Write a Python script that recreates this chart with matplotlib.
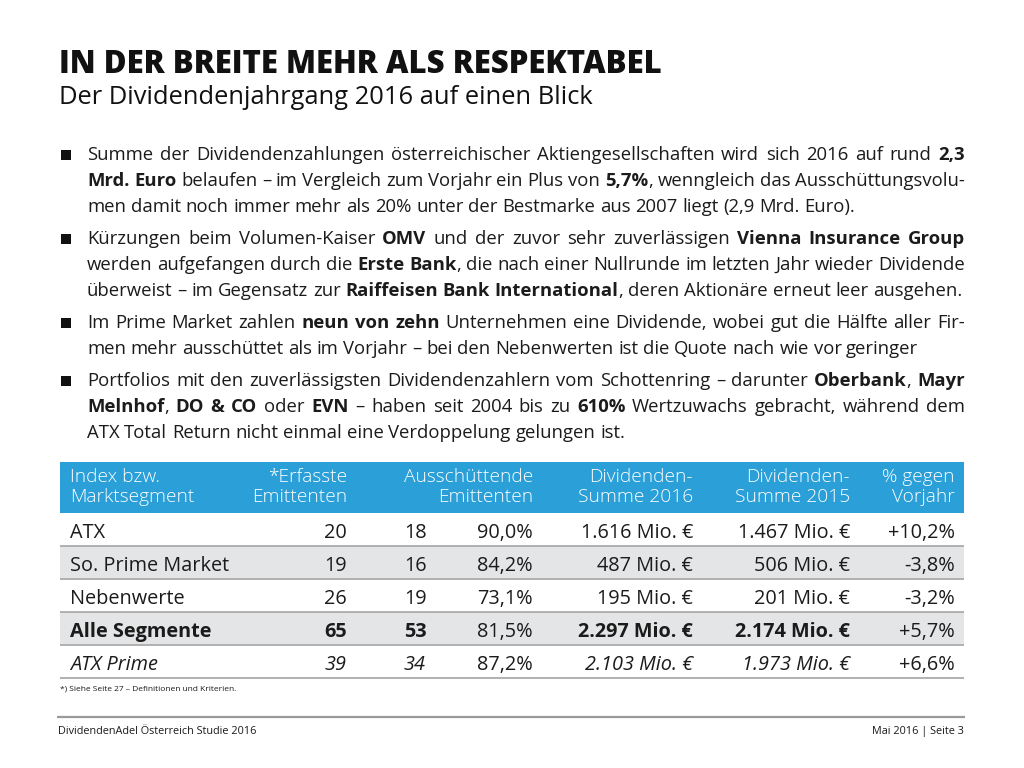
import matplotlib
matplotlib.use("Agg")
import matplotlib.pyplot as plt
from matplotlib.patches import Rectangle

# ---------------- data ----------------
title = "IN DER BREITE MEHR ALS RESPEKTABEL"
subtitle = "Der Dividendenjahrgang 2016 auf einen Blick"

bullets = [
    ["Summe der Dividendenzahlungen österreichischer Aktiengesellschaften wird sich 2016 auf rund **2,3**",
     "**Mrd. Euro** belaufen – im Vergleich zum Vorjahr ein Plus von **5,7%**, wenngleich das Ausschüttungsvolu-",
     "men damit noch immer mehr als 20% unter der Bestmarke aus 2007 liegt (2,9 Mrd. Euro)."],
    ["Kürzungen beim Volumen-Kaiser **OMV** und der zuvor sehr zuverlässigen **Vienna Insurance Group**",
     "werden aufgefangen durch die **Erste Bank**, die nach einer Nullrunde im letzten Jahr wieder Dividende",
     "überweist – im Gegensatz zur **Raiffeisen Bank International**, deren Aktionäre erneut leer ausgehen."],
    ["Im Prime Market zahlen **neun von zehn** Unternehmen eine Dividende, wobei gut die Hälfte aller Fir-",
     "men mehr ausschüttet als im Vorjahr – bei den Nebenwerten ist die Quote nach wie vor geringer"],
    ["Portfolios mit den zuverlässigsten Dividendenzahlern vom Schottenring – darunter **Oberbank**, **Mayr**",
     "**Melnhof**, **DO & CO** oder **EVN** – haben seit 2004 bis zu **610%** Wertzuwachs gebracht, während dem",
     "ATX Total Return nicht einmal eine Verdoppelung gelungen ist."],
]

header_cols = [("Index bzw.", "Marktsegment"), ("*Erfasste", "Emittenten"),
               ("Ausschüttende", "Emittenten"), ("Dividenden-", "Summe 2016"),
               ("Dividenden-", "Summe 2015"), ("% gegen", "Vorjahr")]
segments = ["ATX", "So. Prime Market", "Nebenwerte", "Alle Segmente", "ATX Prime"]
erfasste = [20, 19, 26, 65, 39]
ausschuettende = [18, 16, 19, 53, 34]
quote = [90.0, 84.2, 73.1, 81.5, 87.2]
summe2016 = [1616, 487, 195, 2297, 2103]
summe2015 = [1467, 506, 201, 2174, 1973]
veraenderung = [10.2, -3.8, -3.2, 5.7, 6.6]
row_style = ["normal", "normal", "normal", "bold", "italic"]

footnote = "*) Siehe Seite 27 – Definitionen und Kriterien."
footer_left = "DividendenAdel Österreich Studie 2016"
footer_right = "Mai 2016 | Seite 3"

# ---------------- setup ----------------
W, H = 1024, 768
fig = plt.figure(figsize=(10.24, 7.68), dpi=100)
ax = fig.add_axes([0, 0, 1, 1])
ax.set_xlim(0, W)
ax.set_ylim(H, 0)
ax.axis("off")
R = fig.canvas.get_renderer()
FAM = "Open Sans"
TXT = "#1b1b1b"


def measure(s, size, **kw):
    t = ax.text(0, 0, s, fontsize=size, family=FAM, **kw)
    w = t.get_window_extent(R).width
    t.remove()
    return w


def fit(s, target, **kw):
    return 10.0 * target / measure(s, 10.0, **kw)


# ---------------- title ----------------
ts = fit(title, 606, weight=800)
ax.text(59, 73, title, fontsize=ts, family=FAM, weight=800, color="#111111", va="baseline")
ss = fit(subtitle, 534, weight=400)
ax.text(59, 104, subtitle, fontsize=ss, family=FAM, weight=400, color="#111111", va="baseline")

# ---------------- bullets ----------------
XL, XR = 87, 965


def parse_words(line):
    parts = line.split("**")
    runs = []
    for i, p in enumerate(parts):
        bold = (i % 2 == 1)
        for ch in p:
            runs.append((ch, bold))
    words, cur = [], []
    for ch, b in runs:
        if ch == " ":
            if cur:
                words.append(cur)
            cur = []
        else:
            if cur and cur[-1][1] == b:
                cur[-1] = (cur[-1][0] + ch, b)
            else:
                cur.append((ch, b))
    if cur:
        words.append(cur)
    return words


def natural_width(line, size):
    words = parse_words(line)
    sp = measure("a a", size) - measure("aa", size)
    tot = sum(measure(t, size, weight=700 if b else 400) for w in words for t, b in w)
    return tot + sp * (len(words) - 1)


bs = 10.0 * 874 / natural_width(bullets[1][2], 10.0)
space_nat = measure("a a", bs) - measure("aa", bs)


def draw_line(line, y, justify):
    words = parse_words(line)
    widths = []
    for w in words:
        widths.append([measure(t, bs, weight=700 if b else 400) for t, b in w])
    total = sum(sum(ws) for ws in widths)
    gap = (XR - XL - total) / (len(words) - 1) if justify and len(words) > 1 else space_nat
    x = XL
    for w, ws in zip(words, widths):
        for (t, b), wd in zip(w, ws):
            ax.text(x, y, t, fontsize=bs, family=FAM, weight=700 if b else 400,
                    color=TXT, va="baseline", ha="left")
            x += wd
        x += gap


y = 160
for para in bullets:
    ax.add_patch(Rectangle((61, y - 10.5), 10, 10.5, color="#111111", lw=0))
    for i, line in enumerate(para):
        draw_line(line, y, justify=(i < len(para) - 1))
        y += 26
    y += 6

# ---------------- table ----------------
TL, TR = 60, 964
HT, HB = 462, 513
row_h = 33
col_x = [70, 347, 533, 693, 850, 955]
col_n2 = 404
BLUE = "#2a9fd8"
GRAY = "#e4e5e6"
LINE = "#ababab"

ax.add_patch(Rectangle((TL, HT), TR - TL, HB - HT, color=BLUE, lw=0))
hs = fit("Marktsegment", 124, weight=300)
for j, (l1, l2) in enumerate(header_cols):
    ha = "left" if j == 0 else "right"
    ax.text(col_x[j], 482, l1, fontsize=hs, family=FAM, weight=300, color="white", va="baseline", ha=ha)
    ax.text(col_x[j], 502, l2, fontsize=hs, family=FAM, weight=300, color="white", va="baseline", ha=ha)

rs = fit("So. Prime Market", 159, weight=400)


def de_num(v):
    return f"{v:,}".replace(",", ".")


for i, seg in enumerate(segments):
    top = HB + i * row_h
    if i % 2 == 1:
        ax.add_patch(Rectangle((TL, top), TR - TL, row_h, color=GRAY, lw=0))
    ax.plot([TL, TR], [top + row_h, top + row_h], color=LINE, lw=1.3, solid_capstyle="butt")
    st = row_style[i]
    wkw = dict(weight=700 if st == "bold" else 400, style="italic" if st == "italic" else "normal")
    nkw = dict(weight=400, style="normal")
    yb = top + 25
    cells = [
        (col_x[0], seg, "left", wkw),
        (col_x[1], str(erfasste[i]), "right", wkw),
        (col_n2, str(ausschuettende[i]), "left", wkw),
        (col_x[2], f"{quote[i]:.1f}".replace(".", ",") + "%", "right", nkw),
        (col_x[3], de_num(summe2016[i]) + " Mio. €", "right", wkw),
        (col_x[4], de_num(summe2015[i]) + " Mio. €", "right", wkw),
        (col_x[5], f"{veraenderung[i]:+.1f}".replace(".", ",") + "%", "right", nkw),
    ]
    for x, s, ha, kw in cells:
        ax.text(x, yb, s, fontsize=rs, family=FAM, color=TXT, va="baseline", ha=ha, **kw)

fs = fit(footnote, 177, weight=400)
ax.text(60, 690, footnote, fontsize=fs, family=FAM, weight=400, color=TXT, va="baseline")

# ---------------- footer ----------------
ax.plot([57, 965], [717, 717], color="#9a9a9a", lw=1.6, solid_capstyle="butt")
fl = fit(footer_left, 199, weight=400)
ax.text(58, 734, footer_left, fontsize=fl, family=FAM, weight=400, color=TXT, va="baseline")
ax.text(964, 734, footer_right, fontsize=fl, family=FAM, weight=400, color=TXT, va="baseline", ha="right")

fig.savefig("out.png", dpi=100)
